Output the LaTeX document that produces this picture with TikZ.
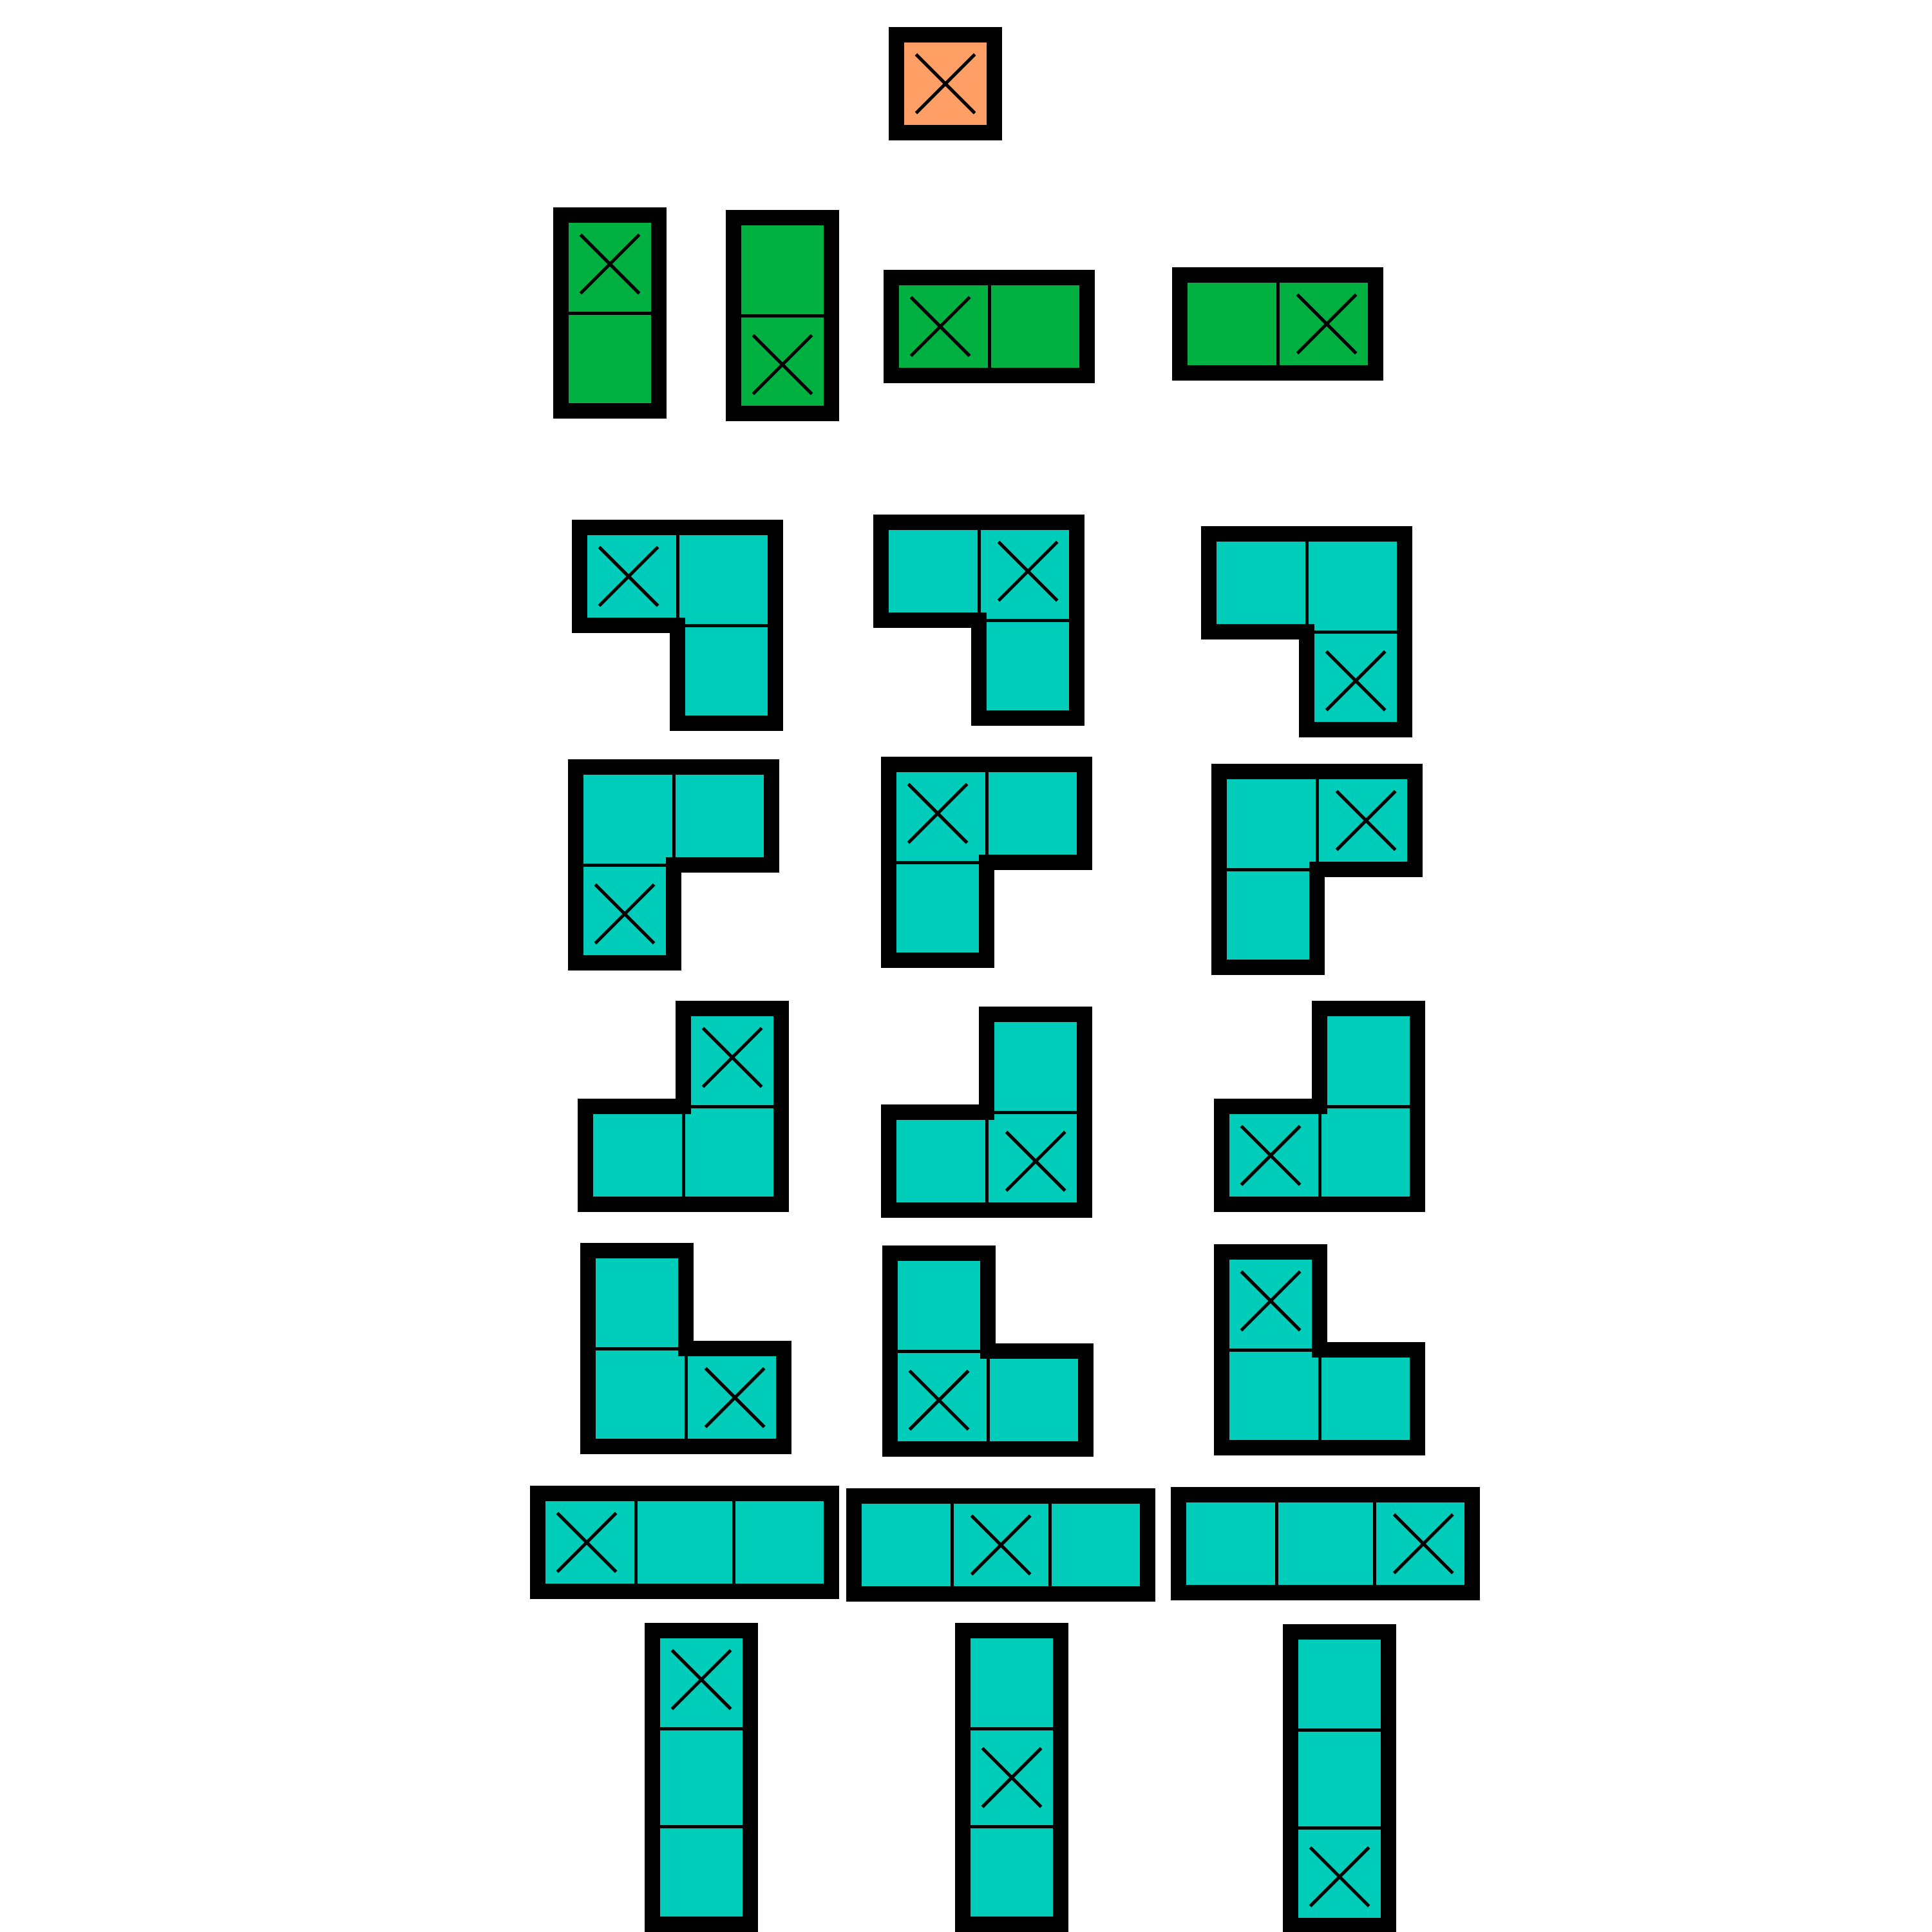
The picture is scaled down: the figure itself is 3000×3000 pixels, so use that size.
\documentclass[tikz,border=0pt]{standalone}
\definecolor{piecorange}{RGB}{255,159,102}
\definecolor{piecgreen}{RGB}{0,176,64}
\definecolor{pieceteal}{RGB}{0,204,186}
\tikzset{
  cellline/.style={draw=black,line width=1.42pt},
  xm/.style={draw=black,line width=1.42pt},
  outline/.style={draw=black,line width=6.83pt,line join=miter}
}
\newcommand\polypiece[6]{%
\begin{scope}[shift={(#1,#2)},x=1.52cm,y=-1.52cm]
\foreach \i/\j in {#4} {\filldraw[cellline,fill=#3] (\i,\j) rectangle ++(1,1);}
\foreach \i/\j in {#5} {\draw[xm] (\i+0.2,\j+0.2) -- (\i+0.8,\j+0.8) (\i+0.8,\j+0.2) -- (\i+0.2,\j+0.8);}
\draw[outline] #6;
\end{scope}}
\begin{document}
\begin{tikzpicture}[x=0.01cm,y=-0.01cm]
\useasboundingbox[fill=white] (0,0) rectangle (3000,3000);
% monomino
\polypiece{1392}{54}{piecorange}{0/0}{0/0}{(0,0) rectangle (1,1)}
% dominoes
\polypiece{871}{334}{piecgreen}{0/0,0/1}{0/0}{(0,0) rectangle (1,2)}
\polypiece{1139}{338}{piecgreen}{0/0,0/1}{0/1}{(0,0) rectangle (1,2)}
\polypiece{1384}{431}{piecgreen}{0/0,1/0}{0/0}{(0,0) rectangle (2,1)}
\polypiece{1832}{427}{piecgreen}{0/0,1/0}{1/0}{(0,0) rectangle (2,1)}
% L: top two, bottom right
\polypiece{900}{819}{pieceteal}{0/0,1/0,1/1}{0/0}{(0,0)--(2,0)--(2,2)--(1,2)--(1,1)--(0,1)--cycle}
\polypiece{1368}{811}{pieceteal}{0/0,1/0,1/1}{1/0}{(0,0)--(2,0)--(2,2)--(1,2)--(1,1)--(0,1)--cycle}
\polypiece{1877}{829}{pieceteal}{0/0,1/0,1/1}{1/1}{(0,0)--(2,0)--(2,2)--(1,2)--(1,1)--(0,1)--cycle}
% L: top two, bottom left
\polypiece{894}{1191}{pieceteal}{0/0,1/0,0/1}{0/1}{(0,0)--(2,0)--(2,1)--(1,1)--(1,2)--(0,2)--cycle}
\polypiece{1380}{1187}{pieceteal}{0/0,1/0,0/1}{0/0}{(0,0)--(2,0)--(2,1)--(1,1)--(1,2)--(0,2)--cycle}
\polypiece{1893}{1198}{pieceteal}{0/0,1/0,0/1}{1/0}{(0,0)--(2,0)--(2,1)--(1,1)--(1,2)--(0,2)--cycle}
% L: top right, bottom two
\polypiece{909}{1566}{pieceteal}{1/0,0/1,1/1}{1/0}{(1,0)--(2,0)--(2,2)--(0,2)--(0,1)--(1,1)--cycle}
\polypiece{1380}{1575}{pieceteal}{1/0,0/1,1/1}{1/1}{(1,0)--(2,0)--(2,2)--(0,2)--(0,1)--(1,1)--cycle}
\polypiece{1897}{1566}{pieceteal}{1/0,0/1,1/1}{0/1}{(1,0)--(2,0)--(2,2)--(0,2)--(0,1)--(1,1)--cycle}
% L: top left, bottom two
\polypiece{913}{1942}{pieceteal}{0/0,0/1,1/1}{1/1}{(0,0)--(1,0)--(1,1)--(2,1)--(2,2)--(0,2)--cycle}
\polypiece{1382}{1946}{pieceteal}{0/0,0/1,1/1}{0/1}{(0,0)--(1,0)--(1,1)--(2,1)--(2,2)--(0,2)--cycle}
\polypiece{1897}{1944}{pieceteal}{0/0,0/1,1/1}{0/0}{(0,0)--(1,0)--(1,1)--(2,1)--(2,2)--(0,2)--cycle}
% I horizontal
\polypiece{835}{2319}{pieceteal}{0/0,1/0,2/0}{0/0}{(0,0) rectangle (3,1)}
\polypiece{1326}{2323}{pieceteal}{0/0,1/0,2/0}{1/0}{(0,0) rectangle (3,1)}
\polypiece{1830}{2321}{pieceteal}{0/0,1/0,2/0}{2/0}{(0,0) rectangle (3,1)}
% I vertical
\polypiece{1013}{2532}{pieceteal}{0/0,0/1,0/2}{0/0}{(0,0) rectangle (1,3)}
\polypiece{1495}{2532}{pieceteal}{0/0,0/1,0/2}{0/1}{(0,0) rectangle (1,3)}
\polypiece{2004}{2534}{pieceteal}{0/0,0/1,0/2}{0/2}{(0,0) rectangle (1,3)}
\end{tikzpicture}
\end{document}
